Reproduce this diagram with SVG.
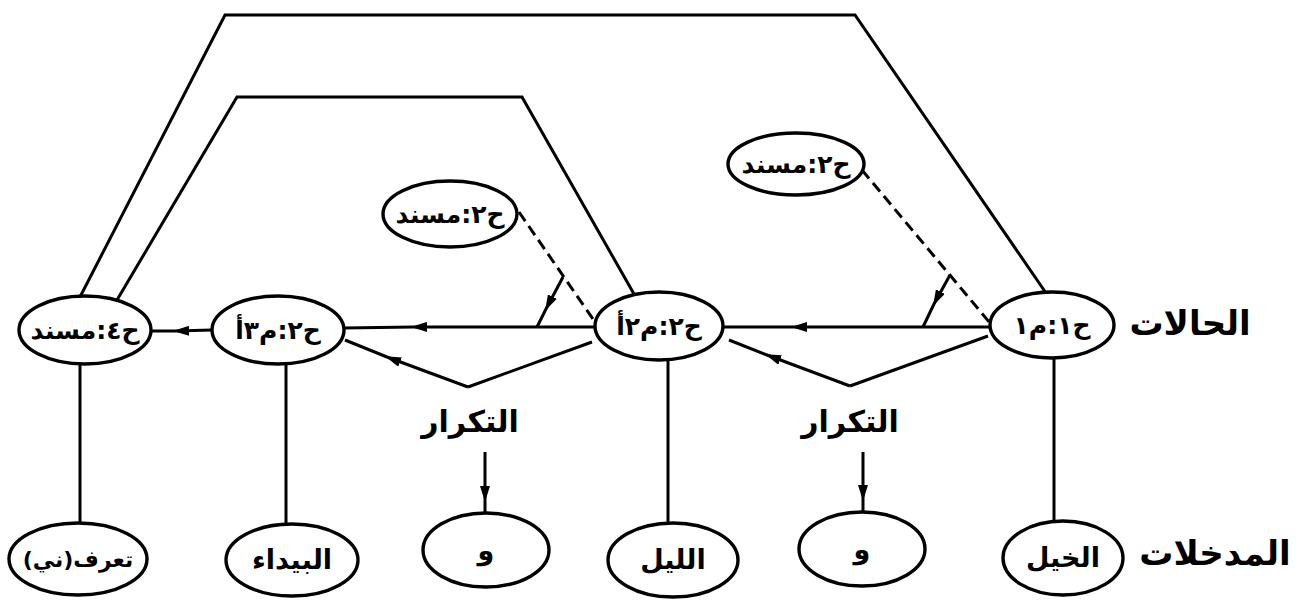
<svg xmlns="http://www.w3.org/2000/svg" width="1302" height="603" viewBox="0 0 1302 603">
<style>
  .node ellipse { fill: #ffffff; stroke: #000; stroke-width: 3.4; }
  .lbl { font-family: "DejaVu Sans", sans-serif; font-weight: bold; font-size: 25px; fill: #000; text-anchor: middle; direction: rtl; }
  .inp { font-family: "DejaVu Sans", sans-serif; font-weight: bold; font-size: 27px; fill: #000; text-anchor: middle; direction: rtl; }
  .big { font-family: "DejaVu Sans", sans-serif; font-weight: bold; font-size: 30px; fill: #000; text-anchor: middle; direction: rtl; }
  .side { font-family: "DejaVu Sans", sans-serif; font-weight: bold; font-size: 34px; fill: #000; text-anchor: middle; direction: rtl; }
  .conn { fill: none; stroke: #000; stroke-width: 3; stroke-linejoin: miter; }
  .dash { fill: none; stroke: #000; stroke-width: 3; stroke-dasharray: 11 6; }
  .arr { marker-mid: url(#ah); }
</style>
<defs>
  <marker id="ah" markerUnits="userSpaceOnUse" markerWidth="16" markerHeight="10" refX="14" refY="5" orient="auto">
    <path d="M0,0 L16,5 L0,10 z" fill="#000"/>
  </marker>
</defs>
<rect width="1302" height="603" fill="#ffffff"/>

<g id="connectors">
  <path class="conn" d="M1046,293 L855,15 L225,15 L80,297"/>
  <path class="conn" d="M634,294 L522,97 L237,97 L117,300"/>
  <path class="conn arr" d="M990,327 L793,327 L723,327"/>
  <path class="conn arr" d="M595,327 L413,327 L344,328"/>
  <path class="conn arr" d="M212,330 L175,331 L152,331"/>
  <path class="conn" d="M988,336 L850,386"/>
  <path class="conn arr" d="M850,386 L767,355 L729,340"/>
  <path class="conn" d="M592,342 L468,387"/>
  <path class="conn arr" d="M468,387 L387,357 L345,340"/>
  <path class="dash" d="M862,170 L990,323"/>
  <path class="dash" d="M519,212 L595,322"/>
  <path class="conn arr" d="M950,275 L934,304 L923,327"/>
  <path class="conn arr" d="M563,277 L546,309 L537,327"/>
  <path class="conn arr" d="M485,452 L485,500 L485,513"/>
  <path class="conn arr" d="M863,452 L863,499 L863,512"/>
  <path class="conn" d="M80,364 L80,523"/>
  <path class="conn" d="M286,364 L286,523"/>
  <path class="conn" d="M668,360 L668,522"/>
  <path class="conn" d="M1054,358 L1054,520"/>
</g>

<g id="s4" class="node"><ellipse cx="85" cy="330" rx="66" ry="34"/><text class="lbl" x="85" y="339">ح٤:مسند</text></g>
<g id="s3" class="node"><ellipse cx="278" cy="330" rx="66" ry="34"/><text class="lbl" x="278" y="339">ح٢:م٣أ</text></g>
<g id="s2" class="node"><ellipse cx="659" cy="326" rx="64" ry="34"/><text class="lbl" x="659" y="335">ح٢:م٢أ</text></g>
<g id="s1" class="node"><ellipse cx="1052" cy="325" rx="62" ry="33"/><text class="lbl" x="1052" y="334">ح١:م١</text></g>

<g id="t2" class="node"><ellipse cx="450" cy="214" rx="67" ry="33"/><text class="lbl" x="450" y="223">ح٢:مسند</text></g>
<g id="t1" class="node"><ellipse cx="796" cy="164" rx="68" ry="31"/><text class="lbl" x="796" y="173">ح٢:مسند</text></g>

<g id="rep2"><text class="big" x="470" y="432">التكرار</text></g>
<g id="rep1"><text class="big" x="850" y="432">التكرار</text></g>

<g id="i6" class="node"><ellipse cx="78" cy="559" rx="69" ry="36"/><text class="inp" x="78" y="567" style="font-size:22px">تعرف(ني)</text></g>
<g id="i5" class="node"><ellipse cx="292" cy="560" rx="66" ry="36"/><text class="inp" x="292" y="569">البيداء</text></g>
<g id="i4" class="node"><ellipse cx="486" cy="550" rx="63" ry="37"/><text class="inp" x="486" y="560">و</text></g>
<g id="i3" class="node"><ellipse cx="673" cy="560" rx="65" ry="37"/><text class="inp" x="673" y="569">الليل</text></g>
<g id="i2" class="node"><ellipse cx="862" cy="549" rx="63" ry="37"/><text class="inp" x="862" y="559">و</text></g>
<g id="i1" class="node"><ellipse cx="1063" cy="558" rx="60" ry="37"/><text class="inp" x="1063" y="567">الخيل</text></g>

<g id="lab-states"><text class="side" x="1190" y="335">الحالات</text></g>
<g id="lab-inputs"><text class="side" x="1215" y="565">المدخلات</text></g>
</svg>
